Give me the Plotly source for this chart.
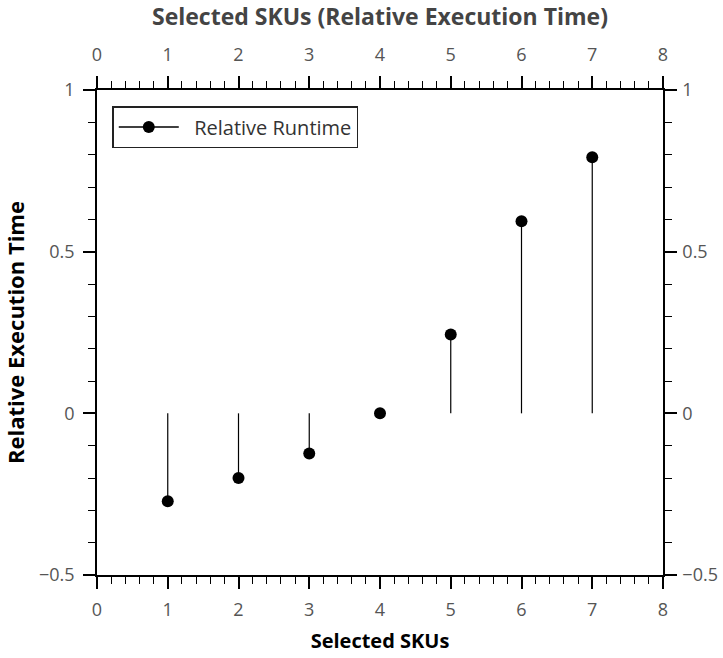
import plotly.graph_objects as go

skus = [1, 2, 3, 4, 5, 6, 7]
relative_runtime = [-0.272, -0.20, -0.124, 0.0, 0.244, 0.594, 0.792]
x_ticks = [0, 1, 2, 3, 4, 5, 6, 7, 8]
y_ticks = [-0.5, 0, 0.5, 1]
y_tick_text = ["\u22120.5", "0", "0.5", "1"]

FONT = "Open Sans"
stem_x, stem_y = [], []
for xv, yv in zip(skus, relative_runtime):
    stem_x += [xv, xv, None]
    stem_y += [0, yv, None]

fig = go.Figure()
fig.add_trace(go.Scatter(x=stem_x, y=stem_y, mode="lines",
                         line=dict(color="black", width=1.2),
                         showlegend=False, hoverinfo="skip"))
fig.add_trace(go.Scatter(x=skus, y=relative_runtime, mode="markers",
                         marker=dict(color="black", size=12),
                         showlegend=False))
fig.add_trace(go.Scatter(x=[None], y=[None], mode="lines+markers",
                         name="  Relative Runtime",
                         line=dict(color="black", width=1.5),
                         marker=dict(color="black", size=12)))
# invisible trace to activate secondary axes
fig.add_trace(go.Scatter(x=[None], y=[None], xaxis="x2", yaxis="y2",
                         showlegend=False, hoverinfo="skip"))

axis_common = dict(showgrid=False, zeroline=False, showline=True,
                   linecolor="black", linewidth=1.5,
                   ticks="outside", ticklen=12, tickwidth=1.5, tickcolor="black",
                   tickfont=dict(family=FONT, size=18, color="#555555"))
xminor = dict(dtick=0.2, ticks="outside", ticklen=7, tickwidth=1.2, tickcolor="black")
yminor = dict(dtick=0.1, ticks="outside", ticklen=7, tickwidth=1.2, tickcolor="black")

fig.update_layout(
    width=723, height=658,
    margin=dict(l=97, r=60, t=90, b=83),
    paper_bgcolor="white", plot_bgcolor="white",
    font=dict(family=FONT),
    xaxis=dict(range=[0, 8], tickvals=x_ticks, minor=xminor, ticklabelstandoff=6,
               automargin=False,
               title=dict(text="<b>Selected SKUs</b>", standoff=14,
                          font=dict(family=FONT, size=20, color="black")),
               **axis_common),
    xaxis2=dict(range=[0, 8], tickvals=x_ticks, minor=xminor, overlaying="x",
                side="top", ticklabelstandoff=8, automargin=False,
                title=dict(text="<b>Selected SKUs (Relative Execution Time)</b>",
                           standoff=14,
                           font=dict(family=FONT, size=23, color="#444444")),
                **axis_common),
    yaxis=dict(range=[-0.5, 1], tickvals=y_ticks, ticktext=y_tick_text, minor=yminor,
               ticklabelstandoff=5, automargin=True,
               title=dict(text="<b>Relative Execution Time</b>", standoff=9,
                          font=dict(family=FONT, size=22, color="black")),
               **axis_common),
    yaxis2=dict(range=[-0.5, 1], tickvals=y_ticks, ticktext=y_tick_text, minor=yminor,
                overlaying="y", side="right", ticklabelstandoff=2, automargin=False,
                **axis_common),
    legend=dict(x=0.027, y=0.967, xanchor="left", yanchor="top",
                bordercolor="#222222", borderwidth=1.5, bgcolor="white",
                font=dict(family=FONT, size=20, color="#333333"),
                itemwidth=60),
    showlegend=True,
)

fig.write_html("out.html")
